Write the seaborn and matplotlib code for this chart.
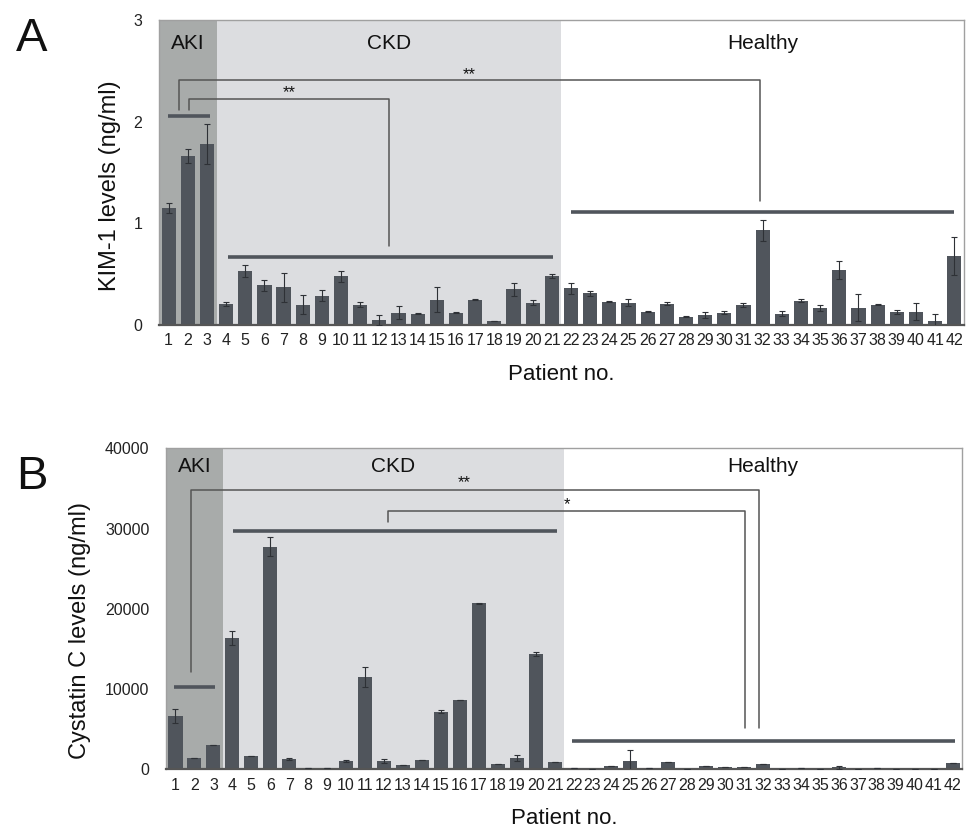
import numpy as np
import pandas as pd
import seaborn as sns
import matplotlib.pyplot as plt

patients = [str(i) for i in range(1, 43)]

kim1 = [1.15, 1.66, 1.78, 0.21, 0.53, 0.39, 0.37, 0.20, 0.29, 0.48,
        0.20, 0.05, 0.12, 0.11, 0.25, 0.12, 0.25, 0.04, 0.35, 0.22,
        0.48, 0.36, 0.31, 0.23, 0.22, 0.13, 0.21, 0.08, 0.10, 0.12,
        0.20, 0.93, 0.11, 0.24, 0.17, 0.54, 0.17, 0.20, 0.13, 0.13,
        0.04, 0.68]
kim1_err = [0.05, 0.07, 0.20, 0.02, 0.06, 0.055, 0.14, 0.095, 0.055, 0.055,
            0.023, 0.05, 0.065, 0.005, 0.125, 0.005, 0.003, 0.003, 0.065, 0.027,
            0.02, 0.055, 0.026, 0.003, 0.036, 0.004, 0.013, 0.005, 0.03, 0.013,
            0.02, 0.105, 0.023, 0.016, 0.03, 0.092, 0.134, 0.006, 0.02, 0.082,
            0.065, 0.187]

cysc = [6640, 1370, 3030, 16360, 1700, 27740, 1250, 120, 120, 1000,
        11460, 1000, 540, 1160, 7180, 8600, 20680, 660, 1370, 14370,
        910, 170, 60, 370, 1000, 120, 910, 40, 370, 250,
        250, 620, 40, 200, 80, 250, 20, 120, 40, 40,
        40, 830]
cysc_err = [870, 0, 0, 830, 0, 1160, 120, 0, 0, 150,
            1250, 250, 0, 0, 150, 0, 100, 0, 370, 200,
            0, 0, 0, 0, 1400, 0, 0, 0, 0, 0,
            0, 0, 0, 0, 0, 200, 0, 0, 0, 0,
            0, 0]

groups = ['AKI', 'CKD', 'Healthy']
group_edges = [(-0.5, 2.5), (2.5, 20.5), (20.5, 41.5)]
group_colors = ['#a8abaa', '#dcdde0', 'white']

df = pd.DataFrame({'patient': patients, 'kim1': kim1, 'kim1_err': kim1_err,
                   'cysc': cysc, 'cysc_err': cysc_err})

bar_color = '#50555c'
line_color = '#555555'
font = ['Liberation Sans', 'DejaVu Sans']

sns.set_theme(style='white')
plt.rcParams['font.family'] = font

fig = plt.figure(figsize=(9.72, 8.27), dpi=100)
axA = fig.add_axes([0.1636, 0.607, 0.828, 0.369])
axB = fig.add_axes([0.1708, 0.0698, 0.819, 0.388])


def draw_panel(ax, col, ecol, ymax, yticks, group_label_y, ylabel, ylab_x, ylab_y):
    for (x0, x1), c in zip(group_edges, group_colors):
        ax.axvspan(x0, x1, color=c, zorder=0, lw=0)
    sns.barplot(data=df, x='patient', y=col, color=bar_color, width=0.74,
                saturation=1, errorbar=None, linewidth=0, ax=ax, zorder=2)
    ax.errorbar(np.arange(len(df)), df[col], yerr=df[ecol], fmt='none',
                ecolor='#2e3136', elinewidth=0.8, capsize=2.5, capthick=0.8, zorder=3)
    ax.set_xlim(-0.5, 41.5)
    ax.set_ylim(0, ymax)
    ax.set_yticks(yticks)
    ax.set_yticklabels([str(t) for t in yticks])
    ax.tick_params(axis='both', length=0, labelsize=11.5, colors='#222222')
    ax.tick_params(axis='x', pad=6)
    ax.tick_params(axis='y', pad=12)
    ax.set_xlabel('Patient no.', fontsize=16, labelpad=11, color='#111111')
    ax.set_ylabel(ylabel, fontsize=17, color='#111111')
    ax.yaxis.set_label_coords(ylab_x, ylab_y)
    for s in ['top', 'right', 'left']:
        ax.spines[s].set_color('#a0a0a0')
        ax.spines[s].set_linewidth(1)
    ax.spines['bottom'].set_color('#555555')
    ax.spines['bottom'].set_linewidth(1.6)
    centers = [(a + b) / 2 for a, b in group_edges]
    for g, cx in zip(groups, centers):
        ax.text(cx, group_label_y, g, ha='center', va='center', fontsize=15, color='#111111')


draw_panel(axA, 'kim1', 'kim1_err', 3, [0, 1, 2, 3], 2.77,
           'KIM-1 levels (ng/ml)', -0.047, 0.456)
draw_panel(axB, 'cysc', 'cysc_err', 40000, [0, 10000, 20000, 30000, 40000], 37700,
           'Cystatin C levels (ng/ml)', -0.094, 0.433)

# group bars
for ax, spans in [(axA, [(-0.05, 2.15, 2.056), (3.1, 20.05, 0.672), (21.0, 41.0, 1.111)]),
                  (axB, [(-0.1, 2.1, 10200), (3.05, 20.15, 29730), (20.9, 41.1, 3530)])]:
    for x0, x1, y in spans:
        ax.plot([x0, x1], [y, y], color=bar_color, lw=2.6, solid_capstyle='butt', zorder=4)


def bracket(ax, x0, y0, x1, y1, ytop, label, lx, ly):
    ax.plot([x0, x0, x1, x1], [y0, ytop, ytop, y1], color=line_color, lw=1.1, zorder=4)
    ax.text(lx, ly, label, ha='center', va='center', fontsize=12, color='#111111')


bracket(axA, 0.56, 2.115, 30.85, 1.22, 2.407, '**', 15.7, 2.46)
bracket(axA, 1.05, 2.115, 11.5, 0.777, 2.223, '**', 6.3, 2.28)
bracket(axB, 0.82, 12170, 30.78, 5100, 34800, '**', 15.24, 35700)
bracket(axB, 11.23, 30860, 30.07, 5100, 32180, '*', 20.65, 33000)

fig.text(0.033, 0.953, 'A', fontsize=34, ha='center', va='center', color='#111111')
fig.text(0.033, 0.423, 'B', fontsize=34, ha='center', va='center', color='#111111')

fig.savefig('out.png', dpi=100)
plt.close(fig)
